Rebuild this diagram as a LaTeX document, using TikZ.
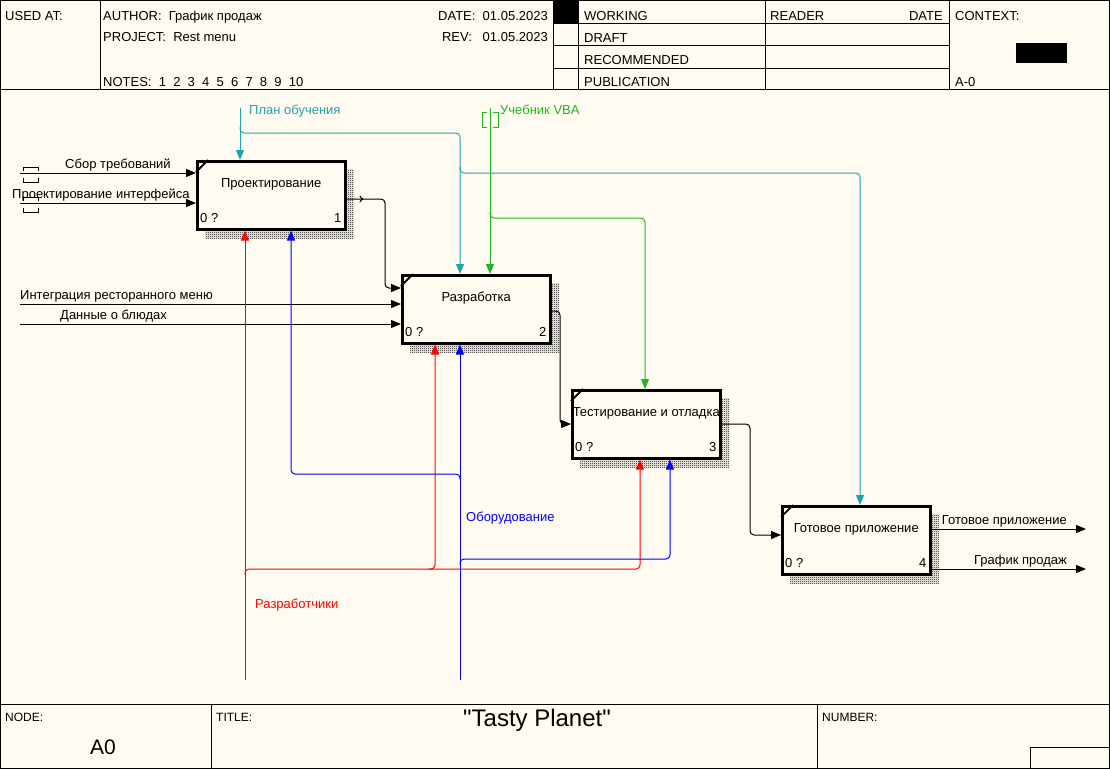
\documentclass[tikz,border=0pt]{standalone}
\usepackage{fontspec}
\setmainfont{Liberation Sans}
\newfontfamily\plaintitlefont{Liberation Sans}
\usetikzlibrary{arrows.meta,patterns,decorations.markings}
\definecolor{bgc}{RGB}{255,251,240}
\definecolor{tealc}{RGB}{32,164,172}
\definecolor{greenc}{RGB}{34,180,34}
\definecolor{redc}{RGB}{255,0,0}
\definecolor{bluec}{RGB}{0,0,255}
\pgfdeclarepatternformonly{checker}{\pgfpointorigin}{\pgfpoint{2pt}{2pt}}{\pgfpoint{2pt}{2pt}}{%
  \pgfpathrectangle{\pgfpointorigin}{\pgfpoint{1pt}{1pt}}%
  \pgfpathrectangle{\pgfpoint{1pt}{1pt}}{\pgfpoint{1pt}{1pt}}%
  \pgfusepath{fill}}
\tikzset{
  txt/.style={font=\fontsize{13}{15}\selectfont, inner sep=0pt},
  smalltxt/.style={font=\fontsize{12}{14}\selectfont, inner sep=0pt},
  bigtxt/.style={font=\fontsize{21}{24}\selectfont, inner sep=0pt},
  titletxt/.style={font=\plaintitlefont\fontsize{24}{27}\selectfont, inner sep=0pt},
  frameline/.style={line width=1pt},
  actbox/.style={draw, line width=2.5pt, fill=bgc, minimum width=148pt, minimum height=68pt, anchor=north west, inner sep=0pt},
  boxshade/.style={pattern=checker, pattern color=black},
  conn/.style={line width=1pt, rounded corners=4pt},
  tip/.style={-{Triangle[length=10pt,width=8pt]}},
  tunnel/.style={line width=1pt},
}
\newcommand\actshadow[2]{\fill[boxshade] (#1+10,#2+10) rectangle (#1+159,#2+79);}
\begin{document}
\begin{tikzpicture}[x=1pt,y=-1pt]
\fill[bgc] (0,0) rectangle (1110,769);
\useasboundingbox (0,0) rectangle (1110,769);
% ---------- frame ----------
\draw[frameline] (0.5,0.5) rectangle (1109.5,768.3);
\draw[frameline] (0,89) -- (1110,89);
\draw[frameline] (100,0) -- (100,89);
\draw[frameline] (553,0) -- (553,89);
\draw[frameline] (578,0) -- (578,89);
\draw[frameline] (765,0) -- (765,89);
\draw[frameline] (949,0) -- (949,89);
\draw[frameline] (553,23) -- (949,23);
\draw[frameline] (553,45) -- (949,45);
\draw[frameline] (553,68) -- (949,68);
\fill[black] (553,1) rectangle (578,23);
\fill[black] (1016,43) rectangle (1067,63);
% header text
\node[txt, anchor=base west] (usedat) at (5,20) {USED AT:};
\node[txt, anchor=base west] (author) at (103,20) {AUTHOR:\ \ График продаж};
\node[txt, anchor=base west] (project) at (103,41) {PROJECT:\ \ Rest menu};
\node[txt, anchor=base west] (notes) at (103,86) {NOTES:\ \ 1\ \ 2\ \ 3\ \ 4\ \ 5\ \ 6\ \ 7\ \ 8\ \ 9\ \ 10};
\node[txt, anchor=base east] (date) at (548,20) {DATE:\ \ 01.05.2023};
\node[txt, anchor=base east] (rev) at (548,41) {REV:\ \ \ 01.05.2023};
\node[txt, anchor=base west] (working) at (584,20) {WORKING};
\node[txt, anchor=base west] (draft) at (584,42) {DRAFT};
\node[txt, anchor=base west] (recom) at (584,64) {RECOMMENDED};
\node[txt, anchor=base west] (publ) at (584,86) {PUBLICATION};
\node[txt, anchor=base west] (reader) at (770,20) {READER};
\node[txt, anchor=base east] (rdate) at (943,20) {DATE};
\node[txt, anchor=base west] (context) at (955,20) {CONTEXT:};
\node[txt, anchor=base west] (azero) at (955,86) {A-0};
% ---------- footer ----------
\draw[frameline] (0,704) -- (1110,704);
\draw[frameline] (211,704) -- (211,769);
\draw[frameline] (817,704) -- (817,769);
\draw[frameline] (1030,769) -- (1030,747) -- (1110,747);
\node[smalltxt, anchor=base west] (nodelbl) at (5,721) {NODE:};
\node[smalltxt, anchor=base west] (titlelbl) at (216,721) {TITLE:};
\node[smalltxt, anchor=base west] (numlbl) at (822,721) {NUMBER:};
\node[bigtxt, anchor=base] (nodeval) at (103,754) {A0};
\node[titletxt, anchor=base] (titleval) at (537,726) {"Tasty Planet"};
% ---------- shadows ----------
\actshadow{195}{159}
\actshadow{400}{273}
\actshadow{570}{388}
\actshadow{780}{504}
% ---------- boxes ----------
\node[actbox] (b1) at (196,160) {};
\node[actbox] (b2) at (401,274) {};
\node[actbox] (b3) at (571,389) {};
\node[actbox] (b4) at (781,505) {};
\foreach \b/\t/\n in {b1/Проектирование/1, b2/Разработка/2, b3/Тестирование и отладка/3, b4/Готовое приложение/4}{
  \draw[line width=1.8pt] ([yshift=-12pt]\b.north west) -- ([xshift=12pt]\b.north west);
  \node[txt, anchor=base] (\b t) at ([yshift=-27pt]\b.north) {\t};
  \node[txt, anchor=base west] (\b q) at ([xshift=4pt,yshift=8pt]\b.south west) {0 ?};
  \node[txt, anchor=base east] (\b n) at ([xshift=-5pt,yshift=8pt]\b.south east) {\n};
}
% ---------- inputs ----------
\coordinate (in1) at (20,173);
\coordinate (in2) at (20,203);
\coordinate (in3) at (20,304);
\coordinate (in4) at (20,324);
\draw[conn, tip] (in1) -- (in1 -| b1.west);
\draw[conn, tip] (in2) -- (in2 -| b1.west);
\draw[conn, tip] (in3) -- (in3 -| b2.west);
\draw[conn, tip] (in4) -- (in4 -| b2.west);
\node[txt, anchor=base west] (l1) at (65,168) {Сбор требований};
\node[txt, anchor=base west] (l2) at (12,198) {Проектирование интерфейса};
\node[txt, anchor=base west] (l3) at (20,299) {Интеграция ресторанного меню};
\node[txt, anchor=base west] (l4) at (60,319) {Данные о блюдах};
% tunnel brackets on inputs
\foreach \y in {173,203}{
  \draw[tunnel] (23,\y-2) -- (23,\y-6) -- (38,\y-6) -- (38,\y-2);
  \draw[tunnel] (23,\y+5) -- (23,\y+9) -- (38,\y+9) -- (38,\y+5);
}
% ---------- box to box ----------
\draw[conn, tip, postaction={decorate}, decoration={markings, mark=at position 17pt with {\arrow[black]{To[length=4pt,width=7pt]}}}]
  (b1.east |- 0,199) -- (385,199) -- (385,288) -- (b2.west |- 0,288);
\draw[conn, tip] (b2.east |- 0,311) -- (560,311) -- (560,424) -- (b3.west |- 0,424);
\draw[conn, tip] (b3.east |- 0,424) -- (750,424) -- (750,535) -- (b4.west |- 0,535);
% ---------- outputs ----------
\coordinate (out1) at (1086,529);
\coordinate (out2) at (1086,569);
\draw[conn, tip] (b4.east |- out1) -- (out1);
\draw[conn, tip] (b4.east |- out2) -- (out2);
\node[txt, anchor=base east] (l5) at (1067,524) {Готовое приложение};
\node[txt, anchor=base east] (l6) at (1067,564) {График продаж};
% ---------- controls ----------
\coordinate (plan) at (240,108);
\coordinate (planj) at (240,127);
\coordinate (planj2) at (460,167);
\draw[conn, tip, tealc] (plan) -- (plan |- b1.north);
\draw[conn, tip, tealc] (planj) -- (240,133) -- (460,133) -- (460,0 |- b2.north);
\draw[conn, tip, tealc] (planj2) -- (460,173) -- (860,173) -- (860,0 |- b4.north);
\node[txt, anchor=base west, text=tealc] (l7) at (249,114) {План обучения};
\coordinate (vba) at (490,108);
\coordinate (vbaj) at (490,212);
\draw[conn, tip, greenc] (vba) -- (vba |- b2.north);
\draw[conn, tip, greenc] (vbaj) -- (490,218) -- (645,218) -- (645,0 |- b3.north);
\draw[tunnel, greenc] (487,112) -- (482,112) -- (482,127) -- (487,127);
\draw[tunnel, greenc] (493,112) -- (498,112) -- (498,127) -- (493,127);
\node[txt, anchor=base west, text=greenc] (l8) at (500,114) {Учебник VBA};
% ---------- mechanisms ----------
\coordinate (dev) at (245,680);
\coordinate (devj) at (245,575);
\coordinate (devj2) at (428,569);
\draw[conn, tip, redc] (dev) -- (dev |- b1.south);
\draw[conn, tip, redc] (devj) -- (245,569) -- (640,569) -- (640,0 |- b3.south);
\draw[conn, tip, redc] (devj2) -- (435,569) -- (435,0 |- b2.south);
\node[txt, anchor=base west, text=redc] (l9) at (255,608) {Разработчики};
\coordinate (eq) at (460,680);
\coordinate (eqj) at (460,480);
\coordinate (eqj2) at (460,565);
\draw[conn, tip, bluec] (eq) -- (eq |- b2.south);
\draw[conn, tip, bluec] (eqj) -- (460,474) -- (291,474) -- (291,0 |- b1.south);
\draw[conn, tip, bluec] (eqj2) -- (460,559) -- (670,559) -- (670,0 |- b3.south);
\node[txt, anchor=base west, text=bluec] (l10) at (466,521) {Оборудование};
\end{tikzpicture}
\end{document}
